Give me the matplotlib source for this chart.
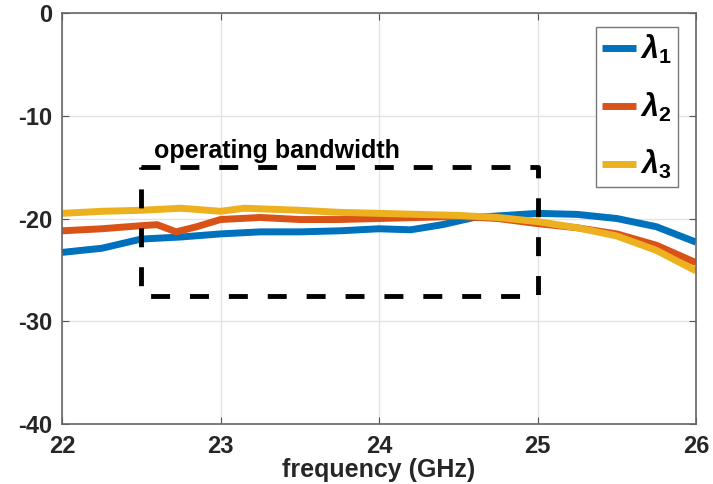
import numpy as np
import matplotlib.pyplot as plt

# values (dB vs GHz)
freq1 = [22.0, 22.25, 22.5, 22.75, 23.0, 23.25, 23.5, 23.75, 24.0, 24.2, 24.4, 24.6, 24.8, 25.0, 25.25, 25.5, 25.75, 26.0]
lam1 = [-23.3, -22.9, -22.0, -21.8, -21.5, -21.3, -21.3, -21.2, -21.0, -21.1, -20.6, -19.9, -19.7, -19.5, -19.6, -20.0, -20.8, -22.3]

freq2 = [22.0, 22.25, 22.5, 22.6, 22.72, 22.85, 23.0, 23.25, 23.5, 23.75, 24.0, 24.25, 24.5, 24.75, 25.0, 25.25, 25.5, 25.75, 26.0]
lam2 = [-21.2, -21.0, -20.7, -20.6, -21.3, -20.8, -20.1, -19.9, -20.1, -20.1, -20.0, -19.9, -19.8, -20.0, -20.5, -20.9, -21.5, -22.6, -24.3]

freq3 = [22.0, 22.25, 22.5, 22.75, 23.0, 23.15, 23.5, 23.75, 24.0, 24.25, 24.5, 24.75, 25.0, 25.25, 25.5, 25.75, 26.0]
lam3 = [-19.5, -19.3, -19.2, -19.0, -19.3, -19.0, -19.2, -19.4, -19.5, -19.6, -19.7, -19.9, -20.3, -20.9, -21.7, -23.1, -25.1]

labels = [r'$\lambda_1$', r'$\lambda_2$', r'$\lambda_3$']
colors = ['#0072BD', '#D95319', '#EDB120']

# operating band box
band_f = [22.5, 25.0]
band_db = [-27.5, -15.0]

plt.rcParams['font.family'] = ['Liberation Sans', 'DejaVu Sans']
plt.rcParams['axes.unicode_minus'] = False
plt.rcParams['mathtext.fontset'] = 'custom'
plt.rcParams['mathtext.rm'] = 'Liberation Sans:bold'
plt.rcParams['mathtext.it'] = 'Liberation Sans:italic:bold'
plt.rcParams['mathtext.bf'] = 'Liberation Sans:bold'

fig = plt.figure(figsize=(7.13, 4.84), dpi=100)
ax = fig.add_axes([62/713, 1-424/484, (696-62)/713, (424-13)/484])

for f, v, lab, c in zip([freq1, freq2, freq3], [lam1, lam2, lam3], labels, colors):
    ax.plot(f, v, color=c, lw=5, label=lab, solid_capstyle='butt')

bx = [band_f[0], band_f[1], band_f[1], band_f[0], band_f[0]]
by = [band_db[1], band_db[1], band_db[0], band_db[0], band_db[1]]
ax.plot(bx, by, color='black', lw=3.5, linestyle=(0, (3.9, 4.1)))
ax.text(22.58, -14.1, 'operating bandwidth', fontsize=18, fontweight='bold', va='baseline')

ax.set_xlim(22, 26)
ax.set_ylim(-40, 0)
ax.set_xticks([22, 23, 24, 25, 26])
ax.set_yticks([-40, -30, -20, -10, 0])
ax.grid(True, color='#e3e3e3', lw=1)
ax.set_axisbelow(True)
ax.tick_params(direction='in', length=5, top=True, right=True, color='#555555',
               labelsize=17, labelcolor='#262626', pad=7)
ax.tick_params(axis='x', pad=8)
for t in ax.get_xticklabels() + ax.get_yticklabels():
    t.set_fontweight('bold')
for s in ax.spines.values():
    s.set_color('#666666')
    s.set_linewidth(1.2)
ax.set_xlabel('frequency (GHz)', fontsize=18, fontweight='bold', color='#262626', labelpad=0)

leg = ax.legend(loc='upper right', bbox_to_anchor=(678/713, 1-27/484), bbox_transform=fig.transFigure,
                borderaxespad=0, fontsize=22, handlelength=1.1, handletextpad=0.15,
                labelspacing=0.8, fancybox=False, framealpha=1, borderpad=0.2)
leg.get_frame().set_edgecolor('#777777')
leg.get_frame().set_linewidth(1)

fig.savefig('out.png', dpi=100)
